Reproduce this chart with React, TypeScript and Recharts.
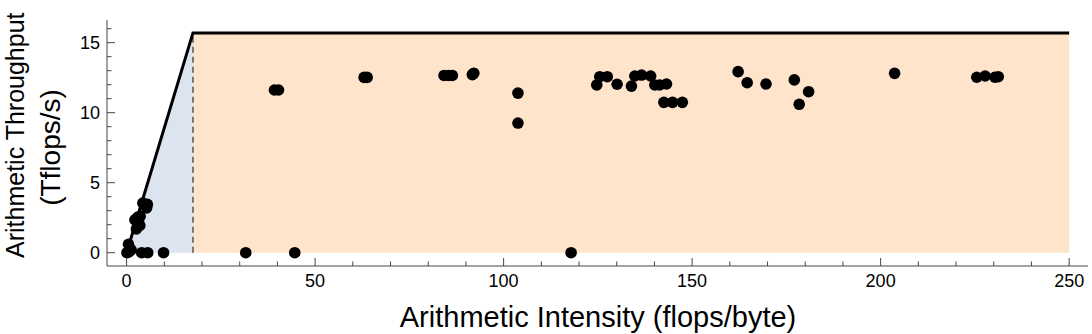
import React from "react";
import {
  ComposedChart,
  XAxis,
  YAxis,
  Line,
  Area,
  Scatter,
  ReferenceArea,
} from "recharts";

// ---- data ----
const peakThroughput = 15.7; // Tflops/s
const ridgeIntensity = 17.6; // flops/byte
const maxIntensity = 250;

const kernelIntensity = [
  0.1, 0.6, 0.5, 1.2, 4.0, 5.6, 9.8,
  2.2, 3.0, 3.6, 2.6, 3.5, 4.3, 5.3, 5.5,
  31.6, 44.6, 117.9,
  39.2, 40.3, 63.0, 63.8, 84.2, 85.4, 86.4, 91.7, 92.1,
  103.8, 103.8,
  124.7, 125.5, 127.5, 130.1, 133.9, 134.8, 136.6, 139.0, 140.1, 141.4, 143.2,
  142.5, 144.8, 147.4,
  162.2, 164.6, 169.6, 177.1, 180.9, 178.4,
  203.7, 225.5, 227.7, 230.3, 231.2,
];
const kernelThroughput = [
  0.0, 0.05, 0.6, 0.2, 0.0, 0.0, 0.0,
  2.35, 2.55, 2.6, 1.7, 1.95, 3.55, 3.2, 3.45,
  0.0, 0.0, 0.0,
  11.62, 11.62, 12.52, 12.52, 12.66, 12.66, 12.66, 12.72, 12.82,
  11.4, 9.26,
  11.98, 12.57, 12.57, 12.03, 11.9, 12.62, 12.69, 12.62, 11.98, 11.98, 12.05,
  10.74, 10.74, 10.74,
  12.93, 12.14, 12.05, 12.34, 11.5, 10.6,
  12.81, 12.53, 12.62, 12.53, 12.57,
];

const xTicks = [0, 10, 20, 30, 40, 50, 60, 70, 80, 90, 100, 110, 120, 130, 140, 150, 160, 170, 180, 190, 200, 210, 220, 230, 240, 250];
const xLabels = [0, 50, 100, 150, 200, 250];
const yTicks = [0, 1, 2, 3, 4, 5, 6, 7, 8, 9, 10, 11, 12, 13, 14, 15, 16];
const yLabels = [0, 5, 10, 15];

const xTitle = "Arithmetic Intensity (flops/byte)";
const yTitle1 = "Arithmetic Throughput";
const yTitle2 = "(Tflops/s)";

// ---- derived tables ----
const kernels = kernelIntensity.map((x, i) => ({ x, y: kernelThroughput[i] }));
const roofline = [
  { x: 0, y: 0 },
  { x: ridgeIntensity, y: peakThroughput },
  { x: maxIntensity, y: peakThroughput },
];
const memoryBound = [
  { x: 0, y: 0 },
  { x: ridgeIntensity, y: peakThroughput },
];
const ridgeLine = [
  { x: ridgeIntensity, y: 0 },
  { x: ridgeIntensity, y: peakThroughput },
];

const FONT = "'Liberation Sans', Arial, Helvetica, sans-serif";
const FRAME = "#444";
const MAJOR = 8;
const MINOR = 4.5;

const BottomTick = (p: any) => {
  const v = p.payload.value;
  const major = xLabels.includes(v);
  return (
    <g>
      <line x1={p.x} y1={p.y} x2={p.x} y2={p.y - (major ? MAJOR : MINOR)} stroke={FRAME} strokeWidth={1} />
      {major && (
        <text x={p.x} y={p.y + 21} textAnchor="middle" fontSize={18} fontFamily={FONT} fill="#000">
          {v}
        </text>
      )}
    </g>
  );
};
const TopTick = (p: any) => {
  const v = p.payload.value;
  const major = xLabels.includes(v);
  return <line x1={p.x} y1={p.y} x2={p.x} y2={p.y + (major ? MAJOR : MINOR)} stroke={FRAME} strokeWidth={1} />;
};
const LeftTick = (p: any) => {
  const v = p.payload.value;
  const major = yLabels.includes(v);
  return (
    <g>
      <line x1={p.x} y1={p.y} x2={p.x + (major ? MAJOR : MINOR)} y2={p.y} stroke={FRAME} strokeWidth={1} />
      {major && (
        <text x={p.x - 7} y={p.y} dy="0.36em" textAnchor="end" fontSize={18} fontFamily={FONT} fill="#000">
          {v}
        </text>
      )}
    </g>
  );
};
const RightTick = (p: any) => {
  const v = p.payload.value;
  const major = yLabels.includes(v);
  return <line x1={p.x} y1={p.y} x2={p.x - (major ? MAJOR : MINOR)} y2={p.y} stroke={FRAME} strokeWidth={1} />;
};

const Dot = (p: any) => <circle cx={p.cx} cy={p.cy} r={5.8} fill="#000" />;

export default function App() {
  const xDomain: [number, number] = [-5.2, 255];
  const yDomain: [number, number] = [-0.95, 16.62];
  return (
    <div style={{ position: "absolute", left: 0, top: 0, width: 1092, height: 334, background: "#fff" }}>
      <ComposedChart width={1092} height={334} margin={{ top: 20, right: 4, bottom: 0, left: 0 }}>
        <XAxis
          xAxisId="b"
          dataKey="x"
          type="number"
          orientation="bottom"
          domain={xDomain}
          ticks={xTicks}
          interval={0}
          allowDataOverflow
          height={68}
          tickSize={0}
          tickMargin={0}
          tickLine={false}
          axisLine={{ stroke: FRAME, strokeWidth: 1 }}
          tick={<BottomTick />}
        />
        <XAxis
          xAxisId="t"
          dataKey="x"
          type="number"
          orientation="top"
          domain={xDomain}
          ticks={xTicks}
          interval={0}
          allowDataOverflow
          height={0}
          tickSize={0}
          tickMargin={0}
          tickLine={false}
          axisLine={{ stroke: FRAME, strokeWidth: 1 }}
          tick={<TopTick />}
        />
        <YAxis
          yAxisId="l"
          type="number"
          orientation="left"
          domain={yDomain}
          ticks={yTicks}
          interval={0}
          allowDataOverflow
          width={107}
          tickSize={0}
          tickMargin={0}
          tickLine={false}
          axisLine={{ stroke: FRAME, strokeWidth: 1 }}
          tick={<LeftTick />}
        />
        <YAxis
          yAxisId="r"
          type="number"
          orientation="right"
          domain={yDomain}
          ticks={yTicks}
          interval={0}
          allowDataOverflow
          width={0}
          tickSize={0}
          tickMargin={0}
          tickLine={false}
          axisLine={{ stroke: FRAME, strokeWidth: 1 }}
          tick={<RightTick />}
        />
        <ReferenceArea
          xAxisId="b"
          yAxisId="l"
          x1={ridgeIntensity}
          x2={maxIntensity}
          y1={0}
          y2={peakThroughput}
          fill="#fee4cb"
          fillOpacity={1}
          stroke="none"
        />
        <Area
          xAxisId="b"
          yAxisId="l"
          data={memoryBound}
          dataKey="y"
          type="linear"
          baseValue={0}
          fill="#dce4ef"
          fillOpacity={1}
          stroke="none"
          isAnimationActive={false}
          dot={false}
          activeDot={false}
        />
        <Line
          xAxisId="b"
          yAxisId="l"
          data={ridgeLine}
          dataKey="y"
          type="linear"
          stroke="#555"
          strokeWidth={1.5}
          strokeDasharray="6 4"
          dot={false}
          activeDot={false}
          isAnimationActive={false}
        />
        <Line
          xAxisId="b"
          yAxisId="l"
          data={roofline}
          dataKey="y"
          type="linear"
          stroke="#000"
          strokeWidth={3}
          dot={false}
          activeDot={false}
          isAnimationActive={false}
        />
        <Scatter
          xAxisId="b"
          yAxisId="l"
          data={kernels}
          dataKey="y"
          shape={<Dot />}
          isAnimationActive={false}
        />
      </ComposedChart>
      <svg width={1092} height={334} style={{ position: "absolute", left: 0, top: 0, pointerEvents: "none" }}>
        <text x={598} y={327} textAnchor="middle" fontSize={29} fontFamily={FONT} fill="#000">
          {xTitle}
        </text>
        <text x={24} y={258} transform="rotate(-90 24 258)" textAnchor="start" fontSize={25} fontFamily={FONT} fill="#000">
          {yTitle1}
        </text>
        <text x={60} y={147.5} transform="rotate(-90 60 147.5)" textAnchor="middle" fontSize={28} fontFamily={FONT} fill="#000">
          {yTitle2}
        </text>
      </svg>
    </div>
  );
}
